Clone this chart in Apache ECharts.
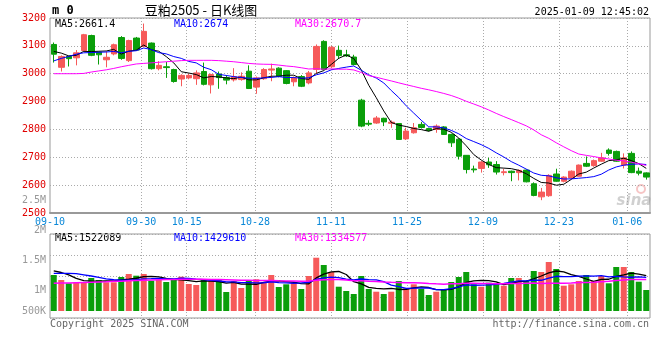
<!DOCTYPE html>
<html><head><meta charset="utf-8">
<script src="https://cdn.jsdelivr.net/npm/echarts@6/dist/echarts.min.js"></script>
<style>html,body{margin:0;padding:0;background:#fff}#c{width:660px;height:360px}</style>
</head><body><div id="c"></div>
<script>
const dates = ['09-10','09-11','09-12','09-13','09-18','09-19','09-20','09-23','09-24','09-25',
'09-26','09-27','09-30','10-08','10-09','10-10','10-11','10-14','10-15','10-16',
'10-17','10-18','10-21','10-22','10-23','10-24','10-25','10-28','10-29','10-30',
'10-31','11-01','11-04','11-05','11-06','11-07','11-08','11-11','11-12','11-13',
'11-14','11-15','11-18','11-19','11-20','11-21','11-22','11-25','11-26','11-27',
'11-28','11-29','12-02','12-03','12-04','12-05','12-06','12-09','12-10','12-11',
'12-12','12-13','12-16','12-17','12-18','12-19','12-20','12-23','12-24','12-25',
'12-26','12-27','12-30','12-31','01-02','01-03','01-06','01-07','01-08','01-09'];
const openP = [3105,3023,3062,3057,3083,3137,3077,3050,3071,3130,
3047,3128,3098,3110,3018,3025,3015,2981,2985,2982,
3008,2960,2999,2986,2978,2979,3009,2952,2982,3013,
3020,3011,2971,2990,2967,3015,3116,3025,3084,3068,
3060,2905,2822,2823,2840,2822,2821,2766,2788,2818,
2803,2800,2809,2782,2765,2707,2658,2660,2683,2674,
2645,2650,2645,2654,2605,2558,2562,2640,2614,2626,
2632,2678,2670,2686,2726,2721,2672,2714,2650,2644];
const highP = [3112,3066,3064,3085,3143,3140,3079,3080,3108,3135,
3122,3132,3180,3112,3045,3042,3018,2998,3000,3012,
3040,3000,3008,2995,3020,3005,3030,2990,3020,3036,
3023,3013,2990,2995,3010,3105,3120,3100,3101,3086,
3068,2910,2833,2848,2842,2832,2822,2806,2823,2827,
2806,2818,2812,2785,2768,2708,2670,2686,2698,2686,
2659,2652,2656,2656,2610,2590,2639,2659,2632,2653,
2674,2703,2692,2716,2732,2724,2714,2721,2663,2646];
const lowP = [3040,3008,3026,3030,3080,3063,3033,3023,3066,3050,
3042,3082,3095,3015,3012,2985,2968,2955,2980,2960,
2958,2929,2946,2962,2972,2975,2945,2928,2978,2973,
2987,2962,2955,2952,2962,3000,3012,3020,3053,3060,
3030,2808,2812,2820,2812,2806,2764,2762,2785,2803,
2793,2788,2780,2737,2692,2642,2645,2645,2662,2638,
2635,2614,2617,2610,2560,2546,2558,2612,2610,2622,
2630,2665,2666,2684,2706,2684,2660,2643,2635,2620];
const closeP = [3070,3062,3054,3075,3140,3066,3068,3059,3104,3055,
3119,3085,3152,3018,3030,3022,2972,2994,2994,3003,
2962,2997,2986,2977,2989,2991,2947,2985,3015,3017,
2991,2965,2985,2955,3003,3098,3015,3095,3065,3064,
3033,2812,2819,2841,2827,2826,2764,2794,2806,2807,
2796,2812,2782,2752,2704,2656,2655,2683,2673,2647,
2648,2645,2653,2612,2563,2575,2635,2614,2629,2650,
2672,2668,2688,2698,2714,2686,2698,2645,2643,2629];
const volume = [1543000,1329000,1187000,1230000,1230000,1414000,1329000,1230000,1230000,1457000,
1586000,1513000,1586000,1299000,1329000,1243000,1329000,1470000,1157000,1114000,
1372000,1286000,1372000,814000,1286000,986000,1286000,1359000,1230000,1543000,
1029000,1144000,1213000,943000,1500000,2284000,1972000,1672000,1041000,857000,
729000,1500000,943000,827000,729000,827000,1286000,973000,1144000,943000,
686000,827000,943000,1243000,1457000,1672000,1144000,1041000,1213000,1187000,
1084000,1414000,1414000,1286000,1714000,1672000,2100000,1800000,1084000,1144000,
1286000,1543000,1286000,1500000,1187000,1886000,1886000,1672000,1256000,900000];
const ma5Lead = [3080,3074,3064,3066];
const ma10Lead = [3046,3055,3062,3070,3075,3076,3077,3078,3080];
const ma30Lead = [3000,3000,3000,3000,3001,3006,3010,3014,3019,3025,3030,3035,3037,3039,3041,3043,3045,3047,3048,3048,3048,3048,3047,3045,3043,3040,3037,3035,3034];
const vma5Lead = [1720000,1650000,1550000,1400000];
const vma10Lead = [1610000,1610000,1610000,1600000,1550000,1500000,1440000,1380000,1340000];
const vma30Lead = [1190000,1200000,1200000,1210000,1220000,1230000,1240000,1250000,1270000,1280000,1300000,1310000,1320000,1330000,1340000,1350000,1355000,1360000,1360000,1360000,1360000,1355000,1350000,1340000,1330000,1320000,1315000,1310000,1310000];
const xTickLabels = ['09-10','09-30','10-15','10-28','11-11','11-25','12-09','12-23','01-06'];
const priceTicks = {min:2500, max:3200, step:100};
const volTickLabels = ['500K','1M','1.5M','2M','2.5M'];
const volTickValues = [500000,1000000,1500000,2000000,2500000];
const legendPrice = ['MA5:2661.4','MA10:2674','MA30:2670.7'];
const legendVol = ['MA5:1522089','MA10:1429610','MA30:1334577'];
const titleText = '豆粕2505 - 日K线图';
const timeText = '2025-01-09 12:45:02';

function ma(arr, n, lead){
  return arr.map((_, i) => {
    if (i < n - 1) return lead[i];
    let s = 0; for (let k = i - n + 1; k <= i; k++) s += arr[k];
    return +(s / n).toFixed(1);
  });
}
const UP = '#f65a5a', DOWN = '#0a9e0a';
const MONO = '"DejaVu Sans Mono", monospace';
const tickSet = new Set(xTickLabels);
const labelFn = (idx) => tickSet.has(dates[idx]);
const splitFn = (idx) => idx > 0 && tickSet.has(dates[idx]);
const dotted = {color:'#aaa', type:[1,2], width:1};

const chart = echarts.init(document.getElementById('c'), null, {renderer:'canvas'});
function txt(x, y, text, color, align, font){
  return {type:'text', x:x, y:y, silent:true,
    style:{text:text, fill:color, font:font || ('10px ' + MONO), align:align||'left', verticalAlign:'middle', textAlign:align||'left', textVerticalAlign:'middle'}};
}
const option = {
  animation:false,
  backgroundColor:'#fff',
  grid:[
    {left:50, top:18, width:600, height:195, show:true, borderColor:'#999', borderWidth:1},
    {left:50, top:234, width:600, height:84, show:true, borderColor:'#999', borderWidth:1},
    {left:50, top:200, width:600, height:121, show:false}
  ],
  xAxis:[
    {type:'category', gridIndex:0, data:dates, boundaryGap:true, show:false},
    {type:'category', gridIndex:0, data:dates, boundaryGap:false, position:'bottom',
      axisLine:{show:true, lineStyle:{color:'#999', width:2}}, axisTick:{show:false},
      axisLabel:{interval:labelFn, color:'#0a88d8', fontFamily:MONO, fontSize:10, margin:4},
      splitLine:{show:true, interval:splitFn, lineStyle:dotted}},
    {type:'category', gridIndex:1, data:dates, boundaryGap:true, show:false},
    {type:'category', gridIndex:1, data:dates, boundaryGap:false,
      axisLine:{show:false}, axisTick:{show:false}, axisLabel:{show:false},
      splitLine:{show:true, interval:splitFn, lineStyle:dotted}},
    {type:'category', gridIndex:2, data:dates, show:false}
  ],
  yAxis:[
    {type:'value', gridIndex:0, min:priceTicks.min, max:priceTicks.max, interval:priceTicks.step,
      axisLine:{show:false}, axisTick:{show:false},
      axisLabel:{color:'#e00000', fontFamily:MONO, fontSize:10, margin:4, padding:[0,0,4,0], formatter:(v) => String(v)},
      splitLine:{show:true, lineStyle:dotted}},
    {type:'value', gridIndex:1, min:-300000, max:3300000, show:false},
    {type:'value', gridIndex:1, min:0, max:4, interval:1,
      axisLine:{show:false}, axisTick:{show:false}, axisLabel:{show:false},
      splitLine:{show:true, lineStyle:dotted}},
    {type:'value', gridIndex:2, min:volTickValues[0], max:volTickValues[volTickValues.length-1], interval:volTickValues[1]-volTickValues[0],
      axisLine:{show:false}, axisTick:{show:false}, splitLine:{show:false},
      axisLabel:{color:'#999', fontFamily:MONO, fontSize:10, margin:4, lineHeight:10,
        formatter:(v) => { const i = volTickValues.indexOf(v); const s = volTickLabels[i]; return i === 0 ? s + '\n\n' : s; }}}
  ],
  series:[
    {type:'candlestick', xAxisIndex:0, yAxisIndex:0, barWidth:6,
      data:dates.map((d,i)=>[openP[i], closeP[i], lowP[i], highP[i]]),
      itemStyle:{color:UP, color0:DOWN, borderColor:UP, borderColor0:DOWN, borderWidth:1}},
    {type:'line', xAxisIndex:0, yAxisIndex:0, data:ma(closeP,5,ma5Lead), symbol:'none', lineStyle:{color:'#000', width:1}, z:5},
    {type:'line', xAxisIndex:0, yAxisIndex:0, data:ma(closeP,10,ma10Lead), symbol:'none', lineStyle:{color:'#0000ff', width:1}, z:5},
    {type:'line', xAxisIndex:0, yAxisIndex:0, data:ma(closeP,30,ma30Lead), symbol:'none', lineStyle:{color:'#ff00ff', width:1}, z:5},
    {type:'bar', xAxisIndex:2, yAxisIndex:1, barWidth:6, data:volume,
      itemStyle:{color:(p) => closeP[p.dataIndex] >= openP[p.dataIndex] ? UP : DOWN}},
    {type:'line', xAxisIndex:2, yAxisIndex:1, data:ma(volume,5,vma5Lead), symbol:'none', lineStyle:{color:'#000', width:1.3}, z:5},
    {type:'line', xAxisIndex:2, yAxisIndex:1, data:ma(volume,10,vma10Lead), symbol:'none', lineStyle:{color:'#0000ff', width:1.3}, z:5},
    {type:'line', xAxisIndex:2, yAxisIndex:1, data:ma(volume,30,vma30Lead), symbol:'none', lineStyle:{color:'#ff00ff', width:1.5}, z:5}
  ],
  graphic:[
    txt(52, 11, 'm 0', '#000', 'left', 'bold 12px ' + MONO),
    txt(201, 10, titleText, '#000', 'center', '13px "Noto Sans CJK SC", sans-serif'),
    txt(649, 12, timeText, '#000', 'right'),
    txt(55, 24, legendPrice[0], '#000'),
    txt(174, 24, legendPrice[1], '#0000ff'),
    txt(295, 24, legendPrice[2], '#ff00ff'),
    txt(55, 238, legendVol[0], '#000'),
    txt(174, 238, legendVol[1], '#0000ff'),
    txt(295, 238, legendVol[2], '#ff00ff'),
    txt(50, 324, 'Copyright 2025 SINA.COM', '#666'),
    txt(649, 324, 'http://finance.sina.com.cn', '#666', 'right'),
    txt(634, 201, 'sina', 'rgba(120,120,120,0.35)', 'center', 'italic bold 15px "DejaVu Sans", sans-serif'),
    {type:'circle', shape:{cx:641, cy:189, r:4}, silent:true, style:{fill:'none', stroke:'rgba(230,90,90,0.35)', lineWidth:2}}
  ]
};
chart.setOption(option);
</script>
</body></html>
